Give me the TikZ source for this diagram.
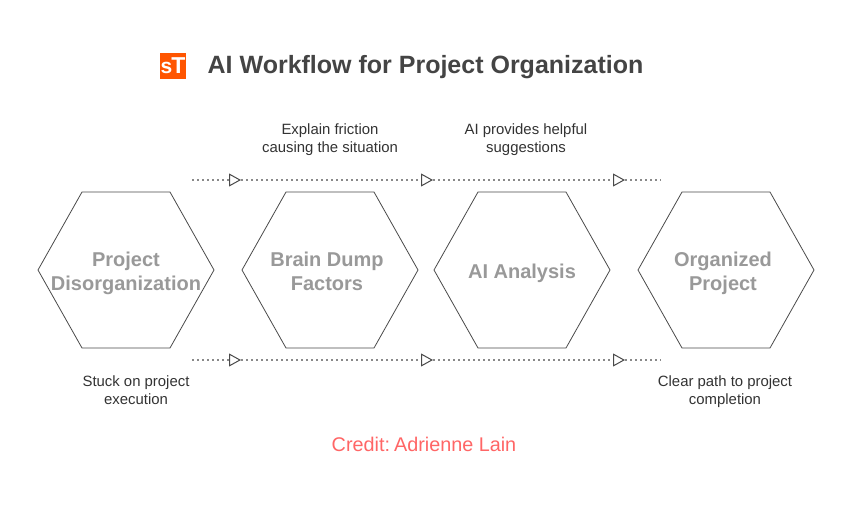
\documentclass[tikz,border=0pt]{standalone}
\usepackage{fontspec}
\setmainfont{Liberation Sans}
\usetikzlibrary{arrows.meta}
\definecolor{hexline}{HTML}{4A4A4A}
\definecolor{hextext}{HTML}{999999}
\definecolor{titletext}{HTML}{444444}
\definecolor{captext}{HTML}{333333}
\definecolor{credit}{HTML}{FF6666}
\definecolor{logo}{HTML}{FF5500}
\tikzset{
 x=1pt,y=-1pt,
 hexlabel/.style={font=\fontsize{20}{24}\selectfont\bfseries,text=hextext,align=center,inner sep=0pt},
 caption/.style={font=\fontsize{14.9}{18}\selectfont,text=captext,align=center,inner sep=0pt},
 hexshape/.style={draw=hexline,line width=0.8pt,line join=miter},
 flow/.style={draw=hexline!65,line width=1.5pt,dash pattern=on 2pt off 3pt},
 flowtip/.style={flow,-{Triangle[open,length=12pt,width=13pt,line width=1pt,color=hexline]}},
}
\newcommand{\hexat}[1]{\draw[hexshape] (#1-38,270) -- (#1+6,192) -- (#1+94,192) -- (#1+138,270) -- (#1+94,348) -- (#1+6,348) -- cycle;}
\begin{document}
\begin{tikzpicture}
\useasboundingbox (0,0) rectangle (852,516);
\fill[white] (0,0) rectangle (852,516);
\node[fill=logo,minimum size=26pt,inner sep=0pt,text=white,font=\bfseries] (logobox) at (173,66) {\raisebox{-1pt}{\fontsize{21}{21}\selectfont s\kern-1pt\fontsize{23}{23}\selectfont T}};
\node[font=\fontsize{25}{28}\selectfont\bfseries,text=titletext,inner sep=0pt] (title) at (425.5,67.5) {AI Workflow for Project Organization};

\hexat{76}\hexat{280}\hexat{472}\hexat{676}
\node[hexlabel] (h1) at (126,273) {Project\\Disorganization};
\node[hexlabel] (h2) at (327,271) {Brain Dump\\Factors};
\node[hexlabel] (h3) at (522,273) {AI Analysis};
\node[hexlabel] (h4) at (723,273) {Organized\\Project};

\coordinate (t0) at (192,180);\coordinate (t1) at (241,180);\coordinate (t2) at (433,180);\coordinate (t3) at (625,180);\coordinate (t4) at (661,180);
\coordinate (b0) at (192,360);\coordinate (b1) at (241,360);\coordinate (b2) at (433,360);\coordinate (b3) at (625,360);\coordinate (b4) at (661,360);
\foreach \r in {t,b}{
 \draw[flowtip] (\r0) -- (\r1);
 \draw[flowtip] (\r1) -- (\r2);
 \draw[flowtip] (\r2) -- (\r3);
 \draw[flow] (\r3) -- (\r4);
}
\node[caption] (c1) at (330,139.5) {Explain friction\\causing the situation};
\node[caption] (c2) at (526,139.5) {AI provides helpful\\suggestions};
\node[caption] (c3) at (136,390) {Stuck on project\\execution};
\node[caption] (c4) at (725,391.5) {Clear path to project\\completion};
\node[font=\fontsize{19.8}{24}\selectfont,text=credit,inner sep=0pt] (credit) at (424,444.5) {Credit:\kern-1.5pt\ Adrienne Lain};
\end{tikzpicture}
\end{document}
